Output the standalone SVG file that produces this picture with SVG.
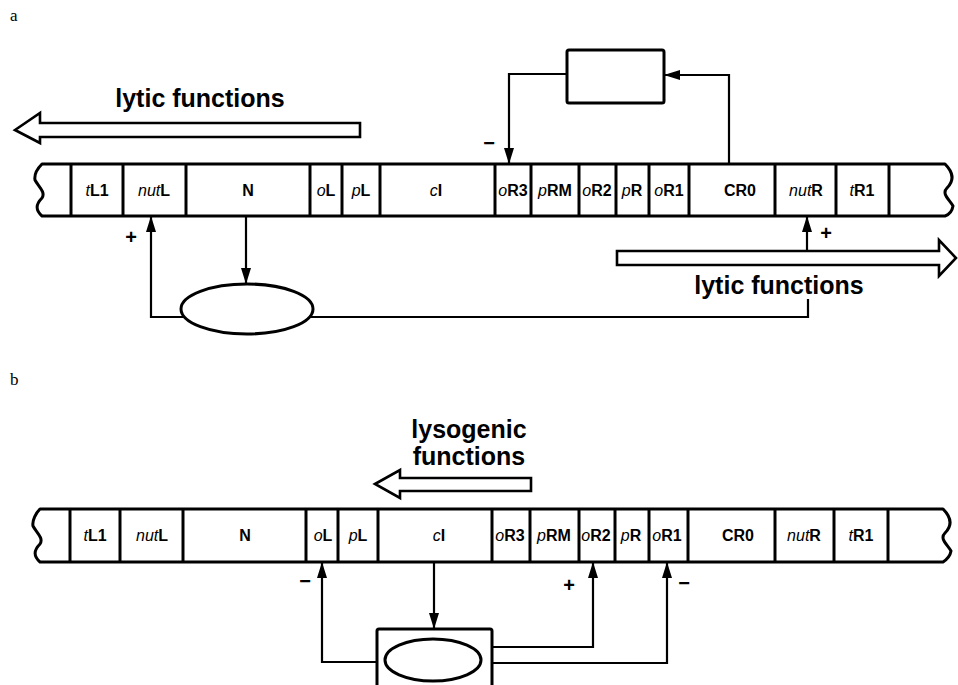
<svg xmlns="http://www.w3.org/2000/svg" width="958" height="685" viewBox="0 0 958 685">
<defs>
<style>
.s{fill:none;stroke:#000;stroke-width:3;stroke-linejoin:round}
.d{stroke:#000;stroke-width:3}
.c{fill:none;stroke:#000;stroke-width:2.2}
.o{fill:#fff;stroke:#000;stroke-width:2.6;stroke-linejoin:miter}
.lbl{font-family:"Liberation Sans",Arial,sans-serif;font-size:16px;font-weight:bold;text-anchor:middle}
.it{font-style:italic;font-weight:normal}
.big{font-family:"Liberation Sans",Arial,sans-serif;font-size:25px;font-weight:bold;text-anchor:middle}
.sg{font-family:"Liberation Sans",Arial,sans-serif;font-size:20px;font-weight:bold;text-anchor:middle}
.pan{font-family:"Liberation Serif","Times New Roman",serif;font-size:17px}
</style>
<marker id="ah" markerWidth="16" markerHeight="10" refX="16" refY="5" orient="auto" markerUnits="userSpaceOnUse"><path d="M0,0 L16,5 L0,10 z" fill="#000"/></marker>
</defs>
<rect width="958" height="685" fill="#fff"/>

<text class="pan" x="10" y="21">a</text>
<text class="pan" x="10" y="385">b</text>

<!-- ===== Part a ===== -->
<g id="strip-a">
<path class="s" d="M42,164 H945 C953,172 955,180 947,188 C941,194 950,200 953,206 C952,212 948,215 945,216 H42 C35,210 36,204 42,198 C46,192 38,186 35,180 C34,174 38,168 42,164 Z"/>
<g class="d">
<line x1="71" y1="164" x2="71" y2="216"/><line x1="123" y1="164" x2="123" y2="216"/>
<line x1="186" y1="164" x2="186" y2="216"/><line x1="310" y1="164" x2="310" y2="216"/>
<line x1="342" y1="164" x2="342" y2="216"/><line x1="380" y1="164" x2="380" y2="216"/>
<line x1="495" y1="164" x2="495" y2="216"/><line x1="531" y1="164" x2="531" y2="216"/>
<line x1="579" y1="164" x2="579" y2="216"/><line x1="616" y1="164" x2="616" y2="216"/>
<line x1="649" y1="164" x2="649" y2="216"/><line x1="689" y1="164" x2="689" y2="216"/>
<line x1="775" y1="164" x2="775" y2="216"/><line x1="836" y1="164" x2="836" y2="216"/>
<line x1="889" y1="164" x2="889" y2="216"/>
</g>
</g>
<g id="a-tL1"><text class="lbl" x="97" y="196"><tspan class="it">t</tspan>L1</text></g>
<g id="a-nutL"><text class="lbl" x="154" y="196"><tspan class="it">nut</tspan>L</text></g>
<g id="a-N"><text class="lbl" x="248" y="196">N</text></g>
<g id="a-oL"><text class="lbl" x="326" y="196"><tspan class="it">o</tspan>L</text></g>
<g id="a-pL"><text class="lbl" x="361" y="196"><tspan class="it">p</tspan>L</text></g>
<g id="a-cI"><text class="lbl" x="436" y="196"><tspan class="it">c</tspan>I</text></g>
<g id="a-oR3"><text class="lbl" x="513" y="196"><tspan class="it">o</tspan>R3</text></g>
<g id="a-pRM"><text class="lbl" x="555" y="196"><tspan class="it">p</tspan>RM</text></g>
<g id="a-oR2"><text class="lbl" x="597" y="196"><tspan class="it">o</tspan>R2</text></g>
<g id="a-pR"><text class="lbl" x="632" y="196"><tspan class="it">p</tspan>R</text></g>
<g id="a-oR1"><text class="lbl" x="669" y="196"><tspan class="it">o</tspan>R1</text></g>
<g id="a-CR0"><text class="lbl" x="740" y="196">CR0</text></g>
<g id="a-nutR"><text class="lbl" x="806" y="196"><tspan class="it">nut</tspan>R</text></g>
<g id="a-tR1"><text class="lbl" x="862" y="196"><tspan class="it">t</tspan>R1</text></g>

<g id="a-lytic-left">
<polygon class="o" points="15,130 40,113 40,123 360,123 360,137 40,137 40,143"/>
<text class="big" x="200" y="107">lytic functions</text>
</g>
<g id="a-lytic-right">
<polygon class="o" points="617,251 939,251 939,240 956,258 939,276 939,265 617,265"/>
<text class="big" x="779" y="294">lytic functions</text>
</g>
<g id="a-box"><rect class="s" x="567" y="50" width="97" height="53" rx="2"/></g>
<g id="a-ellipse"><ellipse class="s" cx="247" cy="309" rx="66" ry="25"/></g>

<g id="connectors-a">
<path class="c" d="M566,74 H509 V164" marker-end="url(#ah)"/>
<path class="c" d="M729,164 V75 H664" marker-end="url(#ah)"/>
<path class="c" d="M246,216 V284" marker-end="url(#ah)"/>
<path class="c" d="M185,317 H151 V216" marker-end="url(#ah)"/>
<path class="c" d="M309,317 H808 V299"/>
<path class="c" d="M807,251 V216" marker-end="url(#ah)"/>
<text class="sg" x="489" y="150">−</text>
<text class="sg" x="131" y="244">+</text>
<text class="sg" x="826" y="240">+</text>
</g>

<!-- ===== Part b ===== -->
<g id="strip-b">
<path class="s" d="M40,509 H943 C951,517 953,525 945,533 C939,539 948,545 951,551 C950,557 946,560 943,562 H40 C33,556 34,550 40,544 C44,538 36,532 33,526 C32,520 36,513 40,509 Z"/>
<g class="d">
<line x1="70" y1="509" x2="70" y2="562"/><line x1="120" y1="509" x2="120" y2="562"/>
<line x1="183" y1="509" x2="183" y2="562"/><line x1="306" y1="509" x2="306" y2="562"/>
<line x1="338" y1="509" x2="338" y2="562"/><line x1="378" y1="509" x2="378" y2="562"/>
<line x1="492" y1="509" x2="492" y2="562"/><line x1="530" y1="509" x2="530" y2="562"/>
<line x1="579" y1="509" x2="579" y2="562"/><line x1="615" y1="509" x2="615" y2="562"/>
<line x1="649" y1="509" x2="649" y2="562"/><line x1="688" y1="509" x2="688" y2="562"/>
<line x1="775" y1="509" x2="775" y2="562"/><line x1="834" y1="509" x2="834" y2="562"/>
<line x1="888" y1="509" x2="888" y2="562"/>
</g>
</g>
<g id="b-tL1"><text class="lbl" x="95" y="541"><tspan class="it">t</tspan>L1</text></g>
<g id="b-nutL"><text class="lbl" x="152" y="541"><tspan class="it">nut</tspan>L</text></g>
<g id="b-N"><text class="lbl" x="245" y="541">N</text></g>
<g id="b-oL"><text class="lbl" x="323" y="541"><tspan class="it">o</tspan>L</text></g>
<g id="b-pL"><text class="lbl" x="358" y="541"><tspan class="it">p</tspan>L</text></g>
<g id="b-cI"><text class="lbl" x="439" y="541"><tspan class="it">c</tspan>I</text></g>
<g id="b-oR3"><text class="lbl" x="510" y="541"><tspan class="it">o</tspan>R3</text></g>
<g id="b-pRM"><text class="lbl" x="554" y="541"><tspan class="it">p</tspan>RM</text></g>
<g id="b-oR2"><text class="lbl" x="596" y="541"><tspan class="it">o</tspan>R2</text></g>
<g id="b-pR"><text class="lbl" x="631" y="541"><tspan class="it">p</tspan>R</text></g>
<g id="b-oR1"><text class="lbl" x="667" y="541"><tspan class="it">o</tspan>R1</text></g>
<g id="b-CR0"><text class="lbl" x="738" y="541">CR0</text></g>
<g id="b-nutR"><text class="lbl" x="804" y="541"><tspan class="it">nut</tspan>R</text></g>
<g id="b-tR1"><text class="lbl" x="861" y="541"><tspan class="it">t</tspan>R1</text></g>

<g id="b-lysogenic">
<polygon class="o" points="375,484 400,470 400,478 531,478 531,491 400,491 400,498"/>
<text class="big" x="469" y="438">lysogenic</text>
<text class="big" x="469" y="465">functions</text>
</g>
<g id="b-box"><rect class="s" x="377" y="629" width="115" height="70" rx="2"/></g>
<g id="b-ellipse"><ellipse class="s" cx="433" cy="660" rx="48" ry="21"/></g>

<g id="connectors-b">
<path class="c" d="M434,562 V629" marker-end="url(#ah)"/>
<path class="c" d="M377,662 H322 V562" marker-end="url(#ah)"/>
<path class="c" d="M492,647 H593 V562" marker-end="url(#ah)"/>
<path class="c" d="M492,663 H667 V562" marker-end="url(#ah)"/>
<text class="sg" x="305" y="588">−</text>
<text class="sg" x="569" y="592">+</text>
<text class="sg" x="684" y="590">−</text>
</g>
</svg>
